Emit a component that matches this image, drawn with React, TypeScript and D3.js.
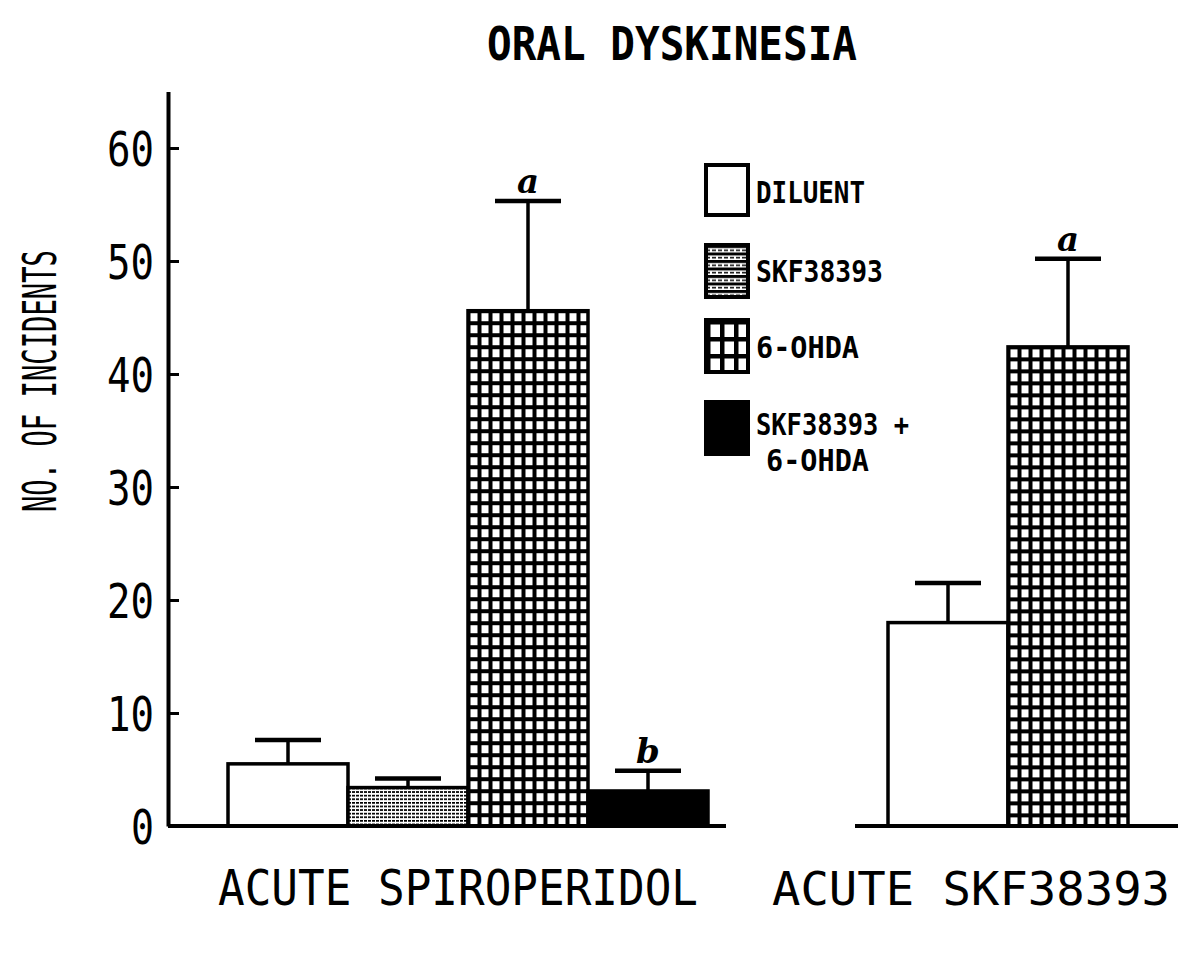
import React, { useEffect, useRef } from "react";
import * as d3 from "d3";

const groups = ["ACUTE SPIROPERIDOL", "ACUTE SKF38393"];
const spiroTreatments = ["DILUENT", "SKF38393", "6-OHDA", "SKF38393 + 6-OHDA"];
const spiroMeans = [5.5, 3.4, 45.6, 3.1];
const spiroErrors = [2.1, 0.8, 9.7, 1.8];
const spiroMarks = ["", "", "a", "b"];
const skfTreatments = ["DILUENT", "6-OHDA"];
const skfMeans = [18.0, 42.4];
const skfErrors = [3.5, 7.8];
const skfMarks = ["", "a"];
const yTicks = [0, 10, 20, 30, 40, 50, 60];
const legendLabels = [["DILUENT"], ["SKF38393"], ["6-OHDA"], ["SKF38393 +", "6-OHDA"]];

const W = 1183, H = 962;
const MONO = "'DejaVu Sans Mono', monospace";

const fillFor = (t: string, id: string) => {
  if (t === "DILUENT") return "#fff";
  if (t === "SKF38393 + 6-OHDA") return "#000";
  return `url(#${id})`;
};

const App = () => {
  const ref = useRef<SVGSVGElement>(null);

  useEffect(() => {
    document.body.style.margin = "0";
    const svg = d3.select(ref.current);
    svg.selectAll("*").remove();
    const defs = svg.append("defs");

    const y = d3.scaleLinear().domain([0, 65]).range([826, 91.5]);
    const gx = d3.scaleBand().domain(groups).range([228, 1368]).paddingInner(180 / 660).paddingOuter(0);

    const addStripe = (id: string, x0: number, y0: number) => {
      const p = defs.append("pattern").attr("id", id).attr("patternUnits", "userSpaceOnUse")
        .attr("x", x0).attr("y", y0).attr("width", 4).attr("height", 3.6);
      p.append("rect").attr("width", 4).attr("height", 3.6).attr("fill", "#fff");
      p.append("rect").attr("width", 3).attr("height", 1.7).attr("fill", "#000");
    };
    const addGrid = (id: string, x0: number, y0: number, pw: number, ph: number, lw: number) => {
      const p = defs.append("pattern").attr("id", id).attr("patternUnits", "userSpaceOnUse")
        .attr("x", x0).attr("y", y0).attr("width", pw).attr("height", ph);
      p.append("rect").attr("width", pw).attr("height", ph).attr("fill", "#000");
      p.append("rect").attr("x", lw).attr("y", lw).attr("width", pw - lw).attr("height", ph - lw).attr("fill", "#fff");
    };

    const drawGroup = (group: string, treatments: string[], means: number[], errs: number[], marks: string[]) => {
      const x0 = gx(group) as number;
      const inner = d3.scaleBand().domain(treatments).range([x0, x0 + 120 * treatments.length]);
      const g = svg.append("g");
      treatments.forEach((t, i) => {
        const bx = inner(t) as number;
        const bw = inner.bandwidth();
        const top = y(means[i]);
        const pid = `p-${group.replace(/\W/g, "")}-${i}`;
        if (t === "SKF38393") addStripe(pid, bx, top);
        if (t === "6-OHDA") addGrid(pid, bx - 1.5, top - 1.5, 11, 12, 4);
        const cx = bx + bw / 2;
        const capY = y(means[i] + errs[i]);
        g.append("line").attr("x1", cx).attr("x2", cx).attr("y1", top).attr("y2", capY)
          .attr("stroke", "#000").attr("stroke-width", 3.5);
        g.append("line").attr("x1", cx - 33).attr("x2", cx + 33).attr("y1", capY).attr("y2", capY)
          .attr("stroke", "#000").attr("stroke-width", 4.5);
        g.append("rect").attr("x", bx).attr("y", top).attr("width", bw).attr("height", y(0) - top)
          .attr("fill", fillFor(t, pid)).attr("stroke", "#000").attr("stroke-width", 3.5);
        if (marks[i]) {
          g.append("text").attr("x", cx).attr("y", capY - 8).attr("text-anchor", "middle")
            .attr("font-family", "'DejaVu Serif', serif").attr("font-style", "italic").attr("font-weight", "bold")
            .attr("font-size", 34).text(marks[i]);
        }
      });
      return inner;
    };

    drawGroup(groups[0], spiroTreatments, spiroMeans, spiroErrors, spiroMarks);
    drawGroup(groups[1], skfTreatments, skfMeans, skfErrors, skfMarks);

    // baselines
    const l0 = gx(groups[0]) as number;
    const r0 = gx(groups[1]) as number;
    svg.append("line").attr("x1", 168).attr("x2", l0 + 120 * spiroTreatments.length + 18)
      .attr("y1", y(0)).attr("y2", y(0)).attr("stroke", "#000").attr("stroke-width", 4);
    svg.append("line").attr("x1", r0 - 33).attr("x2", r0 + 120 * skfTreatments.length + 50)
      .attr("y1", y(0)).attr("y2", y(0)).attr("stroke", "#000").attr("stroke-width", 4);

    // y axis
    const axis = d3.axisLeft(y).tickValues(yTicks).tickSizeInner(-11).tickSizeOuter(0).tickPadding(14)
      .tickFormat(d3.format("d"));
    const ax = svg.append("g").attr("transform", "translate(168,0)").call(axis);
    ax.select(".domain").attr("stroke-width", 4);
    ax.selectAll(".tick line").attr("stroke-width", 3);
    ax.selectAll(".tick text").attr("font-family", MONO).attr("font-size", 48).attr("dy", "0.36em")
      .attr("fill", "#000")
      .attr("textLength", (d: any) => (String(d).length === 1 ? 23 : 47))
      .attr("lengthAdjust", "spacingAndGlyphs");

    // title
    svg.append("text").attr("x", 487).attr("y", 60).attr("font-family", MONO).attr("font-weight", "bold")
      .attr("font-size", 47).attr("textLength", 370).attr("lengthAdjust", "spacingAndGlyphs")
      .text("ORAL DYSKINESIA");

    // y label
    svg.append("text").attr("transform", "translate(56,381) rotate(-90)").attr("text-anchor", "middle")
      .attr("font-family", MONO).attr("font-size", 47).attr("textLength", 262)
      .attr("lengthAdjust", "spacingAndGlyphs").text("NO. OF INCIDENTS");

    // group labels
    const glabX = [218, 772];
    const glabW = [480, 398];
    const glabSize = [50, 46];
    groups.forEach((gname, i) => {
      svg.append("text").attr("x", glabX[i]).attr("y", 905).attr("font-family", MONO).attr("font-size", glabSize[i])
        .attr("textLength", glabW[i]).attr("lengthAdjust", "spacingAndGlyphs").text(gname);
    });

    // legend
    const ls = defs.append("pattern").attr("id", "leg-skf").attr("patternUnits", "userSpaceOnUse")
      .attr("x", 706).attr("y", 245).attr("width", 6).attr("height", 7.5);
    ls.append("rect").attr("width", 6).attr("height", 7.5).attr("fill", "#fff");
    ls.append("rect").attr("width", 6).attr("height", 3).attr("fill", "#000");
    ls.append("rect").attr("y", 4.5).attr("width", 4).attr("height", 1.5).attr("fill", "#000");
    addGrid("leg-ohda", 706, 320, 14, 17, 4.5);
    const legTop = [165, 245, 320, 402];
    const legH = [50, 52, 52, 52];
    const legBase = [203, 282, 358, 435];
    const legW = [[109], [127], [103], [153, 103]];
    spiroTreatments.forEach((t, i) => {
      svg.append("rect").attr("x", 706).attr("y", legTop[i]).attr("width", 42).attr("height", legH[i])
        .attr("fill", t === "SKF38393" ? "url(#leg-skf)" : t === "6-OHDA" ? "url(#leg-ohda)" : t === "DILUENT" ? "#fff" : "#000")
        .attr("stroke", "#000").attr("stroke-width", 4);
      legendLabels[i].forEach((line, j) => {
        svg.append("text").attr("x", j === 0 ? 756 : 766).attr("y", legBase[i] + j * 36)
          .attr("font-family", MONO).attr("font-weight", "bold").attr("font-size", 30)
          .attr("textLength", legW[i][j]).attr("lengthAdjust", "spacingAndGlyphs").text(line);
      });
    });
  }, []);

  return <svg ref={ref} width={W} height={H} style={{ display: "block", background: "#fff" }} />;
};

export default App;
